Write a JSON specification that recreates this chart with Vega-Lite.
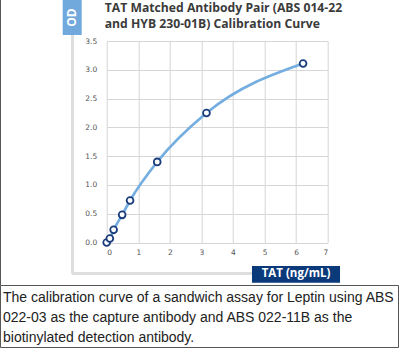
{
  "$schema": "https://vega.github.io/schema/vega-lite/v6.json",
  "width": 221,
  "height": 201.5,
  "autosize": {"type": "none"},
  "padding": {"left": 106.7, "top": 41, "right": 73.3, "bottom": 108.5},
  "background": "white",
  "config": {
    "view": {"stroke": null},
    "axis": {
      "domain": false,
      "ticks": false,
      "grid": true,
      "gridColor": "#d6d6d6",
      "gridWidth": 1,
      "labelFont": "DejaVu Sans",
      "labelFontSize": 7.5,
      "labelColor": "#555555",
      "title": null
    }
  },
  "title": {
    "text": ["TAT Matched Antibody Pair (ABS 014-22", "and HYB 230-01B) Calibration Curve"],
    "anchor": "start",
    "frame": "group",
    "font": "Open Sans",
    "fontSize": 12.2,
    "fontWeight": "bold",
    "color": "#3b3b3b",
    "lineHeight": 16.5,
    "offset": -31,
    "dx": -2
  },
  "data": {
    "values": [
      {"conc": 0, "od": 0.0},
      {"conc": 0.1, "od": 0.07},
      {"conc": 0.22, "od": 0.22},
      {"conc": 0.49, "od": 0.48},
      {"conc": 0.74, "od": 0.73},
      {"conc": 1.6, "od": 1.4},
      {"conc": 3.16, "od": 2.25},
      {"conc": 6.22, "od": 3.11}
    ]
  },
  "layer": [
    {
      "mark": {"type": "line", "interpolate": "monotone", "stroke": "#74aee0", "strokeWidth": 2.7},
      "encoding": {
        "x": {"field": "conc", "type": "quantitative", "scale": {"domain": [0, 7], "nice": false}, "axis": {"values": [0, 1, 2, 3, 4, 5, 6, 7], "title": null, "labelPadding": 6}},
        "y": {"field": "od", "type": "quantitative", "scale": {"domain": [0, 3.5], "nice": false}, "axis": {"values": [0, 0.5, 1, 1.5, 2, 2.5, 3, 3.5], "format": ".1f", "title": null, "labelPadding": 10}}
      }
    },
    {
      "mark": {"type": "point", "shape": "circle", "filled": true, "fill": "white", "stroke": "#1a3c7c", "strokeWidth": 1.8, "size": 46, "opacity": 1},
      "encoding": {
        "x": {"field": "conc", "type": "quantitative", "axis": {"values": [0, 1, 2, 3, 4, 5, 6, 7], "title": null, "labelPadding": 6}},
        "y": {"field": "od", "type": "quantitative", "axis": {"values": [0, 0.5, 1, 1.5, 2, 2.5, 3, 3.5], "format": ".1f", "title": null, "labelPadding": 10}}
      }
    },
    {
      "data": {"values": [{}]},
      "mark": {"type": "rect", "fill": null, "stroke": "#555555", "strokeWidth": 1},
      "encoding": {
        "x": {"datum": -3.364, "type": "quantitative", "axis": {"values": [0, 1, 2, 3, 4, 5, 6, 7], "title": null, "labelPadding": 6}},
        "x2": {"datum": 9.243},
        "y": {"datum": -0.747, "type": "quantitative", "axis": {"values": [0, 0.5, 1, 1.5, 2, 2.5, 3, 3.5], "format": ".1f", "title": null, "labelPadding": 10}},
        "y2": {"datum": -1.824}
      }
    },
    {
      "data": {"values": [{}]},
      "mark": {"type": "rule", "stroke": "#555555", "strokeWidth": 1},
      "encoding": {
        "x": {"datum": -3.364, "type": "quantitative", "axis": {"values": [0, 1, 2, 3, 4, 5, 6, 7], "title": null, "labelPadding": 6}},
        "y": {"datum": 4.212, "type": "quantitative", "axis": {"values": [0, 0.5, 1, 1.5, 2, 2.5, 3, 3.5], "format": ".1f", "title": null, "labelPadding": 10}},
        "y2": {"datum": -0.747}
      }
    },
    {
      "data": {"values": [{}]},
      "mark": {"type": "rule", "stroke": "#dedede", "strokeWidth": 3},
      "encoding": {
        "x": {"datum": -1.083, "type": "quantitative", "axis": {"values": [0, 1, 2, 3, 4, 5, 6, 7], "title": null, "labelPadding": 6}},
        "y": {"datum": 3.604, "type": "quantitative", "axis": {"values": [0, 0.5, 1, 1.5, 2, 2.5, 3, 3.5], "format": ".1f", "title": null, "labelPadding": 10}},
        "y2": {"datum": -0.538}
      }
    },
    {
      "data": {"values": [{}]},
      "mark": {"type": "rule", "stroke": "#dedede", "strokeWidth": 3},
      "encoding": {
        "x": {"datum": -1.107, "type": "quantitative", "axis": {"values": [0, 1, 2, 3, 4, 5, 6, 7], "title": null, "labelPadding": 6}},
        "x2": {"datum": 4.602},
        "y": {"datum": -0.538, "type": "quantitative", "axis": {"values": [0, 0.5, 1, 1.5, 2, 2.5, 3, 3.5], "format": ".1f", "title": null, "labelPadding": 10}}
      }
    },
    {
      "data": {"values": [{}]},
      "mark": {"type": "rect", "fill": "#72a9dd"},
      "encoding": {
        "x": {"datum": -1.394, "type": "quantitative", "axis": {"values": [0, 1, 2, 3, 4, 5, 6, 7], "title": null, "labelPadding": 6}},
        "x2": {"datum": -0.792},
        "y": {"datum": 4.212, "type": "quantitative", "axis": {"values": [0, 0.5, 1, 1.5, 2, 2.5, 3, 3.5], "format": ".1f", "title": null, "labelPadding": 10}},
        "y2": {"datum": 3.604}
      }
    },
    {
      "data": {"values": [{}]},
      "mark": {"type": "text", "text": "OD", "angle": 270, "color": "white", "font": "Open Sans", "fontWeight": "bold", "fontSize": 12, "align": "center", "baseline": "middle"},
      "encoding": {
        "x": {"datum": -1.093, "type": "quantitative", "axis": {"values": [0, 1, 2, 3, 4, 5, 6, 7], "title": null, "labelPadding": 6}},
        "y": {"datum": 3.908, "type": "quantitative", "axis": {"values": [0, 0.5, 1, 1.5, 2, 2.5, 3, 3.5], "format": ".1f", "title": null, "labelPadding": 10}}
      }
    },
    {
      "data": {"values": [{}]},
      "mark": {"type": "rect", "fill": "#0b3a7a"},
      "encoding": {
        "x": {"datum": 4.602, "type": "quantitative", "axis": {"values": [0, 1, 2, 3, 4, 5, 6, 7], "title": null, "labelPadding": 6}},
        "x2": {"datum": 7.39},
        "y": {"datum": -0.408, "type": "quantitative", "axis": {"values": [0, 0.5, 1, 1.5, 2, 2.5, 3, 3.5], "format": ".1f", "title": null, "labelPadding": 10}},
        "y2": {"datum": -0.698}
      }
    },
    {
      "data": {"values": [{}]},
      "mark": {"type": "text", "text": "TAT (ng/mL)", "color": "white", "font": "Open Sans", "fontWeight": "bold", "fontSize": 11.5, "align": "center", "baseline": "middle"},
      "encoding": {
        "x": {"datum": 5.996, "type": "quantitative", "axis": {"values": [0, 1, 2, 3, 4, 5, 6, 7], "title": null, "labelPadding": 6}},
        "y": {"datum": -0.552, "type": "quantitative", "axis": {"values": [0, 0.5, 1, 1.5, 2, 2.5, 3, 3.5], "format": ".1f", "title": null, "labelPadding": 10}}
      }
    },
    {
      "data": {"values": [{}]},
      "mark": {"type": "text", "text": ["The calibration curve of a sandwich assay for Leptin using ABS", "022-03 as the capture antibody and ABS 022-11B as the", "biotinylated detection antibody."], "color": "#222222", "font": "Liberation Sans", "fontSize": 14, "lineHeight": 20, "align": "left", "baseline": "alphabetic"},
      "encoding": {
        "x": {"datum": -3.285, "type": "quantitative", "axis": {"values": [0, 1, 2, 3, 4, 5, 6, 7], "title": null, "labelPadding": 6}},
        "y": {"datum": -1.042, "type": "quantitative", "axis": {"values": [0, 0.5, 1, 1.5, 2, 2.5, 3, 3.5], "format": ".1f", "title": null, "labelPadding": 10}}
      }
    }
  ]
}
